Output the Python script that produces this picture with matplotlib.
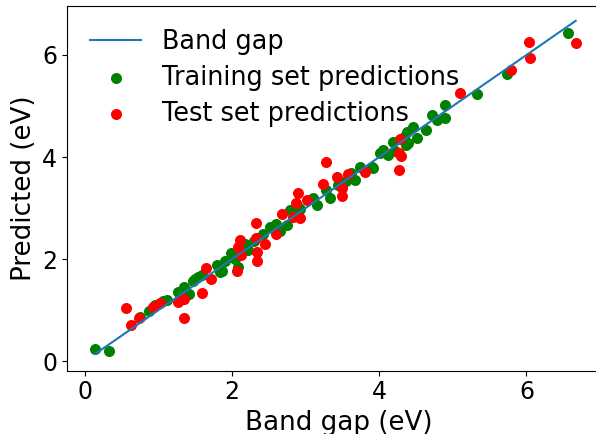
import matplotlib
matplotlib.use("Agg")
import matplotlib.pyplot as plt

# training set: actual vs predicted band gap (eV)
train_actual = [0.14, 0.32, 0.75, 0.87, 0.95, 1.06, 1.12, 1.27, 1.34, 1.42, 1.47, 1.49,
                1.54, 1.585, 1.79, 1.83, 1.86, 1.90, 1.99, 2.04, 2.08, 2.17, 2.22, 2.30,
                2.42, 2.51, 2.60, 2.65, 2.74, 2.79, 2.90, 2.92, 3.10, 3.15, 3.28, 3.33,
                3.44, 3.55, 3.62, 3.67, 3.74, 3.90, 3.91, 4.01, 4.05, 4.12, 4.19, 4.21,
                4.33, 4.36, 4.37, 4.39, 4.46, 4.51, 4.64, 4.72, 4.78, 4.90, 4.90, 5.33,
                5.73, 6.56]
train_pred = [0.24, 0.20, 0.86, 0.99, 1.10, 1.17, 1.20, 1.36, 1.45, 1.31, 1.56, 1.60,
              1.65, 1.69, 1.88, 1.75, 1.76, 1.96, 2.11, 2.01, 1.85, 2.29, 2.18, 2.35,
              2.50, 2.63, 2.69, 2.55, 2.66, 2.96, 3.02, 2.99, 3.19, 3.06, 3.35, 3.20,
              3.45, 3.52, 3.69, 3.55, 3.80, 3.80, 3.78, 4.07, 4.14, 4.04, 4.30, 4.11,
              4.40, 4.24, 4.50, 4.27, 4.59, 4.37, 4.53, 4.82, 4.73, 5.02, 4.76, 5.24,
              5.62, 6.44]

# test set
test_actual = [0.557, 0.62, 0.74, 0.93, 1.02, 1.27, 1.34, 1.345, 1.585, 1.64, 1.71, 2.07,
               2.08, 2.11, 2.12, 2.32, 2.33, 2.34, 2.34, 2.45, 2.59, 2.68, 2.83, 2.87,
               2.90, 2.92, 3.02, 3.23, 3.27, 3.43, 3.49, 3.50, 3.58, 3.80, 4.27, 4.28,
               4.27, 4.30, 5.10, 5.79, 6.04, 6.05, 6.67]
test_pred = [1.03, 0.70, 0.84, 1.06, 1.13, 1.16, 1.21, 0.84, 1.34, 1.82, 1.61, 1.77,
             2.23, 2.37, 2.08, 2.42, 2.71, 2.14, 1.97, 2.29, 2.50, 2.88, 2.82, 3.09,
             3.30, 2.80, 3.16, 3.48, 3.90, 3.60, 3.40, 3.24, 3.67, 3.71, 3.75, 4.36,
             4.08, 4.02, 5.26, 5.71, 6.26, 5.95, 6.24]

all_actual = train_actual + test_actual
line_x = [min(all_actual), max(all_actual)]

fig = plt.figure(figsize=(5.96, 4.34), dpi=100)
ax = fig.add_axes([0.1124, 0.1458, 0.9128, 0.841])

ax.plot(line_x, line_x, label="Band gap")
ax.scatter(train_actual, train_pred, color="green", s=48, label="Training set predictions")
ax.scatter(test_actual, test_pred, color="red", s=48, label="Test set predictions")

ax.set_xlim(-0.245, 7.15)
ax.set_ylim(-0.19, 6.966)
ax.set_xticks([0, 2, 4, 6])
ax.set_yticks([0, 2, 4, 6])
ax.tick_params(labelsize=17)
ax.set_xlabel("Band gap (eV)", fontsize=18.8)
ax.set_ylabel("Predicted (eV)", fontsize=18.8)
ax.legend(loc="upper left", frameon=False, fontsize=18.4, labelspacing=0.4)

fig.savefig("out.png", dpi=100)
